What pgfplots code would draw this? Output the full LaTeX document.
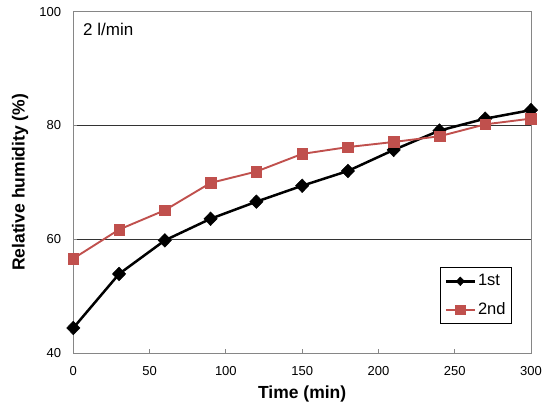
\documentclass[border=0pt]{standalone}
\usepackage{pgfplots}
\pgfplotsset{compat=1.18}
\usepackage{fontspec}
\setmainfont{Liberation Sans}
\definecolor{exred}{RGB}{192,80,77}
\definecolor{axgray}{RGB}{134,134,134}
\begin{document}
\begin{tikzpicture}
\begin{axis}[
  scale only axis,
  width=457.7pt, height=341.3pt,
  xmin=0, xmax=300, ymin=40, ymax=100,
  xtick={0,50,...,300}, ytick={40,60,80,100},
  xtick pos=bottom, ytick pos=left,
  axis line style={axgray, line width=0.9pt},
  tick style={axgray, line width=0.8pt},
  major tick length=4pt,
  tick align=inside,
  ymajorgrids,
  grid style={black!80, line width=0.8pt},
  /pgf/number format/assume math mode=true,
  tick label style={font=\fontsize{13}{15}\selectfont},
  xticklabel style={inner sep=0pt, anchor=north, yshift=-13pt},
  yticklabel style={inner sep=0pt, anchor=east, xshift=-12pt},
  xlabel={\textbf{Time (min)}},
  ylabel={\textbf{Relative humidity (\%)}},
  label style={font=\fontsize{17.5}{20}\selectfont},
  xlabel style={at={(axis description cs:0.5,-0.1192)}, anchor=center, inner sep=0pt},
  ylabel style={at={(axis description cs:-0.1165,0.5)}, anchor=center, rotate=0, inner sep=0pt},
  legend style={at={(axis description cs:0.9585,0.085)}, anchor=south east, draw=black, line width=0.8pt,
    font=\fontsize{16.5}{18}\selectfont, row sep=10.3pt, inner xsep=4pt, inner ysep=5pt,
    nodes={inner sep=2pt, text height=11.5pt, text depth=2.5pt}},
  legend cell align=left,
  legend image code/.code={\draw[mark repeat=2,mark phase=2,#1] plot coordinates {(0pt,0pt) (14.5pt,0pt) (29pt,0pt)};},
]
\addplot[forget plot, black, line width=2.5pt, mark=diamond*, mark size=6.8pt, mark options={solid, fill=black, line width=0.5pt, xscale=1.3}] coordinates {
(0,44.4) (30,53.9) (60,59.8) (90,63.6) (120,66.6) (150,69.4) (180,72.0) (210,75.7) (240,79.1) (270,81.2) (300,82.7)};
\addplot[forget plot, exred, line width=1.9pt, mark=square*, mark size=5.3pt, mark options={solid, fill=exred, line width=0.5pt}] coordinates {
(0,56.6) (30,61.7) (60,65.1) (90,69.9) (120,71.9) (150,75.0) (180,76.2) (210,77.1) (240,78.1) (270,80.2) (300,81.2)};
\addlegendimage{black, line width=2.5pt, mark=diamond*, mark size=4.3pt, mark options={solid, fill=black, line width=0.5pt, xscale=1.3}}
\addlegendentry{1st}
\addlegendimage{exred, line width=1.9pt, mark=square*, mark size=4.8pt, mark options={solid, fill=exred, line width=0.5pt}}
\addlegendentry{2nd}
\node[anchor=base west, inner sep=0pt, font=\fontsize{17}{19}\selectfont] at (axis cs:0,100) [xshift=9.7pt, yshift=-23.8pt] {2 l/min};
\end{axis}
\pgfresetboundingbox
\path[use as bounding box] ([shift={(-73.3pt,-62pt)}]current axis.south west) rectangle ([shift={(24pt,11.7pt)}]current axis.north east);
\end{tikzpicture}
\end{document}
